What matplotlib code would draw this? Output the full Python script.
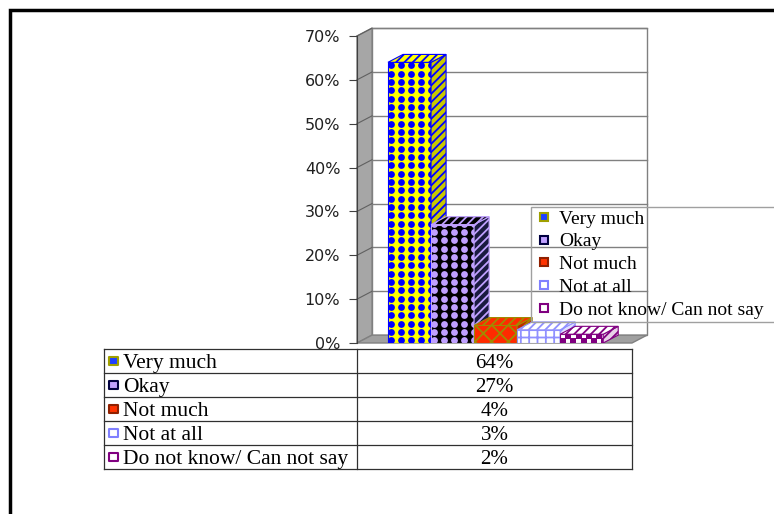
import matplotlib.pyplot as plt
import numpy as np
from matplotlib.patches import Polygon, Rectangle
from matplotlib.lines import Line2D

plt.rcParams['font.family'] = ['Liberation Serif', 'DejaVu Serif']
plt.rcParams['hatch.linewidth'] = 1.3

# data
names = ['Very much', 'Okay', 'Not much', 'Not at all', 'Do not know/ Can not say']
values = [64, 27, 4, 3, 2]
value_labels = ['64%', '27%', '4%', '3%', '2%']
y_ticks = [0, 10, 20, 30, 40, 50, 60, 70]

# styles for the patterned bars
face_colors = ['#ffff00', '#000000', '#ff2a00', '#ffffff', '#ffffff']
side_colors = ['#c8c800', '#1a1a40', '#c02800', '#e0e0ff', '#e8d0e8']
pat_colors = ['#0000ff', '#c0a0ff', '#a08a00', '#9090ff', '#800080']
pat_kind = ['dots', 'dots', 'xx', '++', 'checker']
key_face = ['#2040ff', '#c0a0ff', '#ff3300', '#ffffff', '#ffffff']
key_edge = ['#a0a000', '#000040', '#902000', '#8080ff', '#800080']

W, H = 774, 514
fig = plt.figure(figsize=(W / 100, H / 100), dpi=100)


def px_box(x0, y0, x1, y1):
    # pixel box, origin top-left -> figure fraction
    return [x0 / W, 1 - y1 / H, (x1 - x0) / W, (y1 - y0) / H]


# outer black frame
fig.patches.append(Rectangle((10 / W, -0.05), (777 - 10) / W, 1 - 10 / H + 0.05,
                             transform=fig.transFigure, fill=False, lw=2.5, ec='black'))

ax = fig.add_axes(px_box(357, 36, 632, 343))
x_lo, x_hi = -1.22, 5.17
ax.set_xlim(x_lo, x_hi)
ax.set_ylim(0, 70)
dx, dy = 0.35, 1.8
grid_c = '#808080'

# back wall, side wall, floor
ax.add_patch(Rectangle((x_lo + dx, dy), x_hi - x_lo, 70, fc='white', ec=grid_c, lw=1, clip_on=False, zorder=0))
ax.add_patch(Polygon([(x_lo, 0), (x_lo + dx, dy), (x_lo + dx, 70 + dy), (x_lo, 70)],
                     fc='#a6a6a6', ec=grid_c, lw=1, clip_on=False, zorder=0.5))
ax.add_patch(Polygon([(x_lo, 0), (x_hi, 0), (x_hi + dx, dy), (x_lo + dx, dy)],
                     fc='#a0a0a0', ec=grid_c, lw=1, clip_on=False, zorder=0.5))
for t in y_ticks[1:]:
    ax.plot([x_lo + dx, x_hi + dx], [t + dy, t + dy], color=grid_c, lw=1, clip_on=False, zorder=0.2)
    ax.plot([x_lo, x_lo + dx], [t, t + dy], color='#606060', lw=0.8, clip_on=False, zorder=0.6)


def texture(poly, kind, color, z):
    xy = poly.get_xy()
    if kind in ('xx', '++', '////'):
        h = Polygon(xy, fill=False, hatch=kind, ec=color, lw=0, zorder=z + 0.01, clip_on=False)
        ax.add_patch(h)
        return
    sx, sy = 0.233, 1.9
    marker, s, stag = 'o', 24, False
    if kind == 'checker':
        sx, sy, marker, s, stag = 0.233, 1.14, 's', 14, True
    gx = np.arange(xy[:, 0].min() + sx / 3, xy[:, 0].max() + sx, sx)
    gy = np.arange(xy[:, 1].min() + sy / 3, xy[:, 1].max() + sy, sy)
    X, Y = np.meshgrid(gx, gy)
    if stag:
        X[1::2] += sx / 2
    sc = ax.scatter(X.ravel(), Y.ravel(), s=s, c=color, marker=marker, linewidths=0, zorder=z + 0.01)
    sc.set_clip_path(poly)


for i, v in enumerate(values):
    z = 2 + i
    front = Polygon([(i - 0.5, 0), (i + 0.5, 0), (i + 0.5, v), (i - 0.5, v)],
                    fc=face_colors[i], ec=pat_colors[i], lw=0.8, zorder=z)
    side = Polygon([(i + 0.5, 0), (i + 0.5 + dx, dy), (i + 0.5 + dx, v + dy), (i + 0.5, v)],
                   fc=side_colors[i], ec=pat_colors[i], lw=0.8, zorder=z)
    top = Polygon([(i - 0.5, v), (i + 0.5, v), (i + 0.5 + dx, v + dy), (i - 0.5 + dx, v + dy)],
                  fc=face_colors[i], ec=pat_colors[i], lw=0.8, zorder=z)
    for p in (front, side, top):
        ax.add_patch(p)
    texture(front, pat_kind[i], pat_colors[i], z)
    texture(side, '////', pat_colors[i], z)
    texture(top, '////', pat_colors[i], z)

ax.set_xticks([])
ax.set_yticks(y_ticks, labels=[f'{t}%' for t in y_ticks])
ax.tick_params(axis='y', length=6, width=0.8, pad=6, labelsize=11.5, color='#404040',
               labelfontfamily='DejaVu Sans', labelcolor='#202020')
for s in ('top', 'right', 'bottom'):
    ax.spines[s].set_visible(False)
ax.spines['left'].set_color('#404040')
ax.patch.set_visible(False)

# legend
handles = [Line2D([], [], marker='s', ls='none', markersize=6, markerfacecolor=key_face[i],
                  markeredgecolor=key_edge[i], markeredgewidth=1.5) for i in range(len(names))]
leg = fig.legend(handles, names, loc='upper left', mode='expand',
                 bbox_to_anchor=(531 / W, 1 - 320 / H, 270 / W, 113 / H), borderaxespad=0,
                 fontsize=14, handlelength=1.0, handletextpad=0.3, labelspacing=0.27,
                 borderpad=0.15, fancybox=False, framealpha=1)
leg.get_frame().set_facecolor('none')
leg.get_frame().set_edgecolor('#a0a0a0')
leg.get_frame().set_linewidth(1)

# data table
tax = fig.add_axes(px_box(104, 349, 632, 469))
tax.set_xlim(0, 1)
tax.set_ylim(len(names), 0)
tax.axis('off')
div = (357 - 104) / (632 - 104)
for r in range(len(names) + 1):
    tax.plot([0, 1], [r, r], color='#303030', lw=0.9, clip_on=False)
for xv in (0, div, 1):
    tax.plot([xv, xv], [0, len(names)], color='#303030', lw=0.9, clip_on=False)
rows = np.arange(len(names)) + 0.5
tax.scatter(np.full(len(names), 0.018), rows, marker='s', s=34, c=key_face,
            edgecolors=key_edge, linewidths=1.5, zorder=3)
for r, (nm, lab) in zip(rows, zip(names, value_labels)):
    tax.text(0.036, r, nm, ha='left', va='center_baseline', fontsize=15.5)
    tax.text((div + 1) / 2, r, lab, ha='center', va='center_baseline', fontsize=15)

fig.savefig('out.png', dpi=100)
